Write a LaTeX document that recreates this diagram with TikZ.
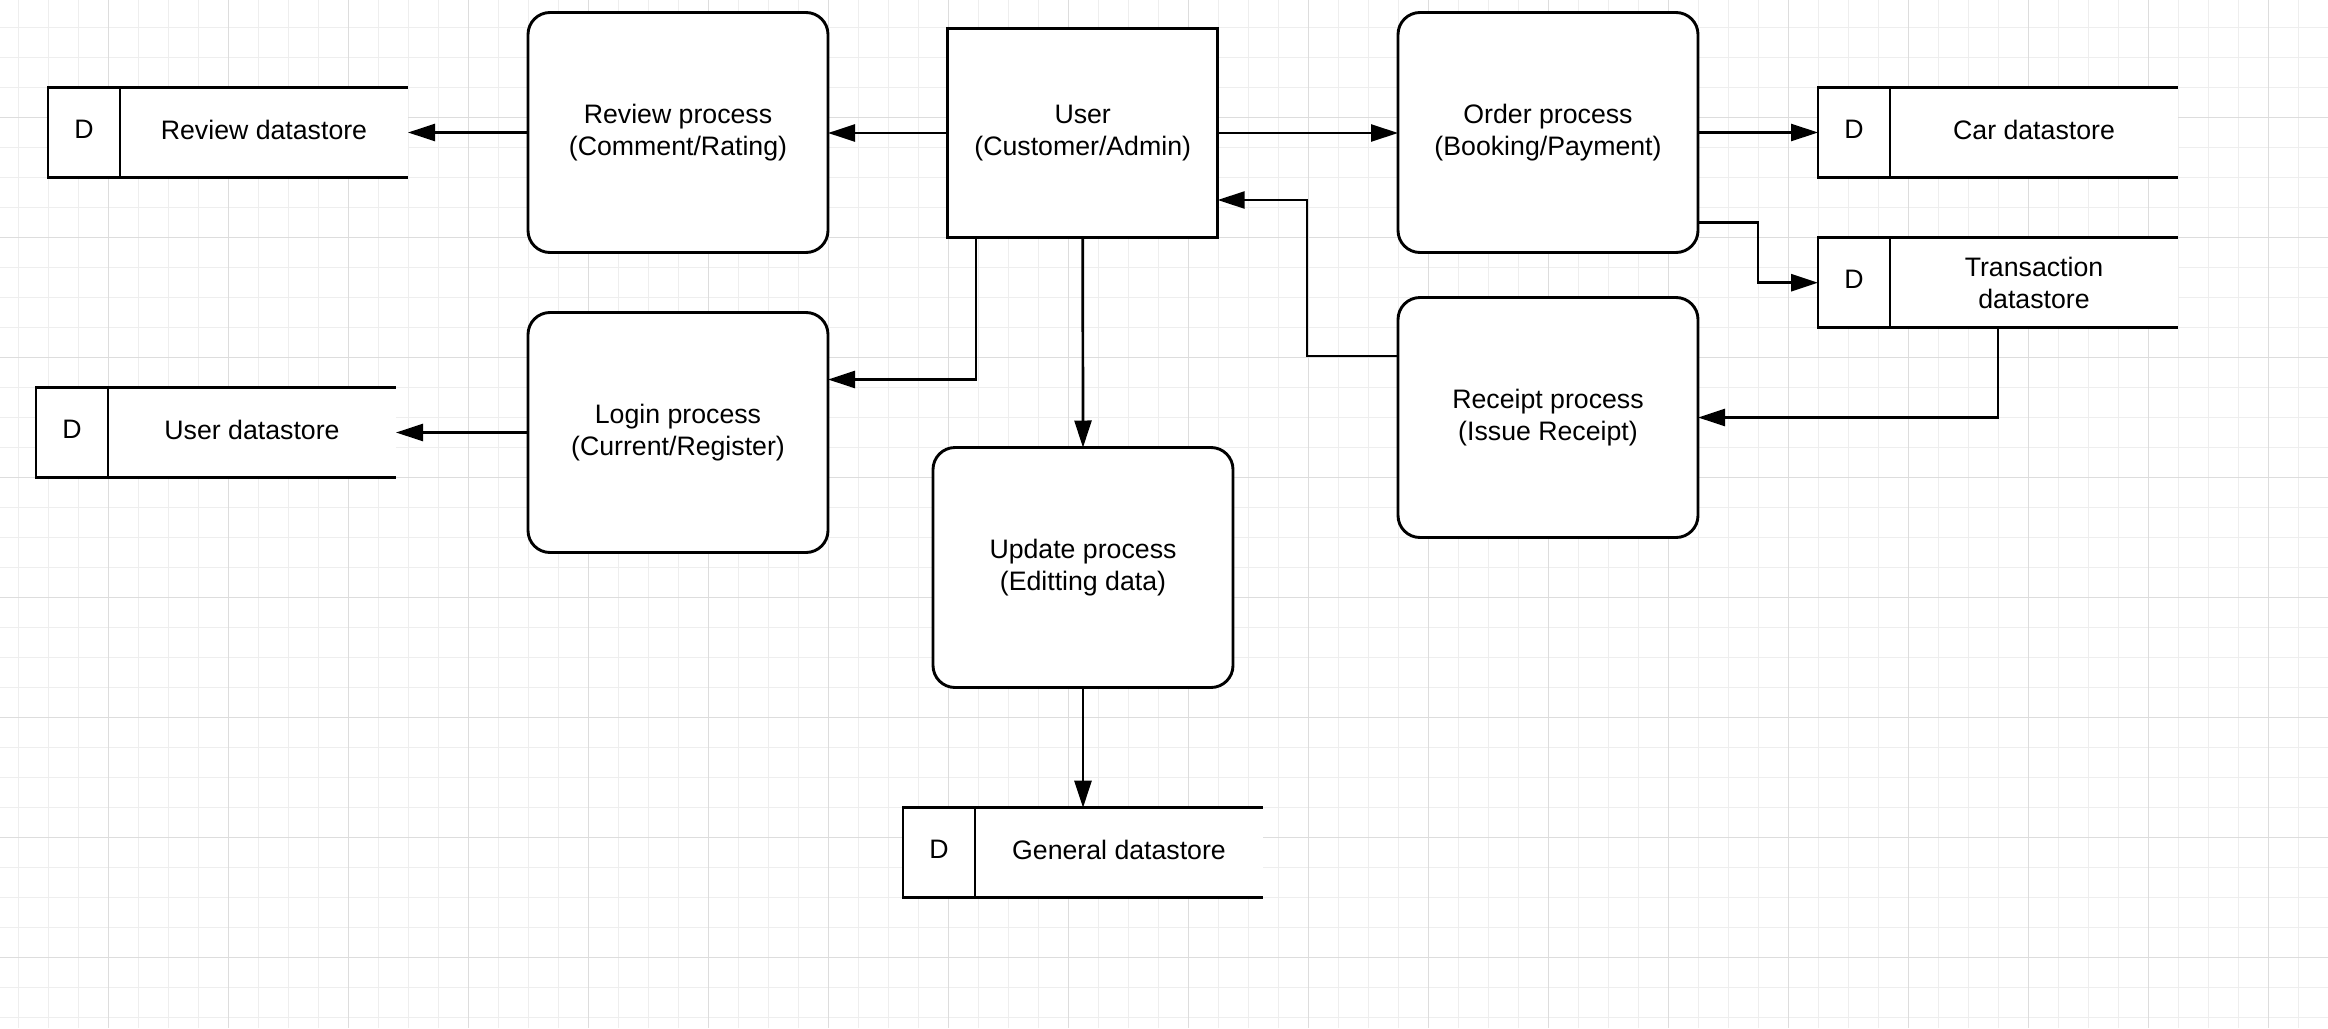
\documentclass[tikz,border=0pt]{standalone}
\usepackage{fontspec}
\setmainfont{Liberation Sans}
\usetikzlibrary{arrows.meta,calc}
\definecolor{gridminor}{RGB}{238,238,238}
\definecolor{gridmajor}{RGB}{221,221,221}
\begin{document}
\begin{tikzpicture}[x=0.5pt,y=-0.5pt,
  every node/.style={font=\fontsize{13.35}{16}\selectfont, inner sep=0pt, outer sep=0pt},
  boxline/.style={line width=1.45pt},
  userbox/.style={boxline, draw, fill=white, minimum width=135pt, minimum height=104.7pt, align=center},
  procbox/.style={boxline, draw, fill=white, rounded corners=11pt, minimum width=150pt, minimum height=120pt, align=center},
  dsbody/.style={fill=white, minimum width=144pt, minimum height=45pt, align=center},
  dsone/.style={text depth=3pt},
  dsd/.style={boxline, draw, fill=white, minimum width=36pt, minimum height=45pt, text depth=3pt},
  dsline/.style={boxline},
  conn/.style={line width=1.35pt, -{Triangle[length=13.5pt,width=8.5pt]}},
  minorgrid/.style={line width=0.5pt, draw=gridminor},
  majorgrid/.style={line width=0.5pt, draw=gridmajor}
]
% background and grid
\fill[white] (0,0) rectangle (2328,1028);
\useasboundingbox (0,0) rectangle (2328,1028);
\foreach \i in {0,...,77} \draw[minorgrid] ({18.3+30*\i},0) -- ({18.3+30*\i},1028);
\foreach \i in {0,...,33} \draw[minorgrid] (0,{27.3+30*\i}) -- (2328,{27.3+30*\i});
\foreach \i in {0,...,18} \draw[majorgrid] ({108.3+120*\i},0) -- ({108.3+120*\i},1028);
\foreach \i in {0,...,7} \draw[majorgrid] (0,{117.3+120*\i}) -- (2328,{117.3+120*\i});

% entity
\node[userbox] (user) at (1082.7,133) {User\\(Customer/Admin)};

% processes
\node[procbox] (review) at (678,132.5) {Review process\\(Comment/Rating)};
\node[procbox] (login) at (678,432.5) {Login process\\(Current/Register)};
\node[procbox] (order) at (1548,132.5) {Order process\\(Booking/Payment)};
\node[procbox] (receipt) at (1548,417.5) {Receipt process\\(Issue Receipt)};
\node[procbox] (update) at (1083,567.5) {Update process\\(Editting data)};

% datastores
\node[dsbody, dsone] (rds) at (264,132.5) {Review datastore};
\node[dsd, anchor=east] (rdsD) at (rds.west) {D};
\draw[dsline] (rds.north west) -- (rds.north east) (rds.south west) -- (rds.south east);

\node[dsbody, dsone] (uds) at (252,432.5) {User datastore};
\node[dsd, anchor=east] (udsD) at (uds.west) {D};
\draw[dsline] (uds.north west) -- (uds.north east) (uds.south west) -- (uds.south east);

\node[dsbody, dsone] (cds) at (2034,132.5) {Car datastore};
\node[dsd, anchor=east] (cdsD) at (cds.west) {D};
\draw[dsline] (cds.north west) -- (cds.north east) (cds.south west) -- (cds.south east);

\node[dsbody] (tds) at (2034,282.7) {Transaction\\datastore};
\node[dsd, anchor=east] (tdsD) at (tds.west) {D};
\draw[dsline] (tds.north west) -- (tds.north east) (tds.south west) -- (tds.south east);

\node[dsbody, dsone] (gds) at (1119,852.7) {General datastore};
\node[dsd, anchor=east] (gdsD) at (gds.west) {D};
\draw[dsline] (gds.north west) -- (gds.north east) (gds.south west) -- (gds.south east);

% connectors
\draw[conn] (user.west) -- (user.west -| review.east);
\draw[conn] (review.west) -- (review.west -| rds.east);
\draw[conn] (login.west) -- (login.west -| uds.east);
\draw[conn] (user.east) -- (user.east -| order.west);
\draw[conn] (order.east) -- (order.east -| cdsD.west);
\draw[conn] ([yshift=15pt]order.south east) -- ++(60,0) |- (tdsD.west);
\draw[conn] ([xshift=-18pt]tds.south) |- (receipt.east);
\draw[conn] ([yshift=-29.25pt]receipt.north west) -- ++(-91,0) |- ([yshift=-33.5pt]user.east);
\draw[conn] ([xshift=14.2pt]user.south west) |- ([yshift=-33.5pt]login.north east);
\draw[conn] (user.south) -- (update.north);
\draw[conn] (update.south) -- (update.south |- gds.north);
\end{tikzpicture}
\end{document}
